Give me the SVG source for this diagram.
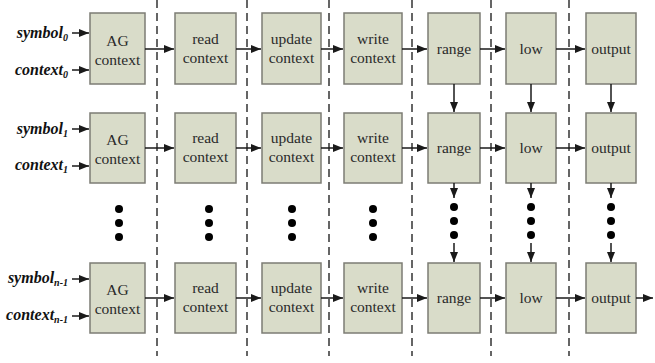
<svg xmlns="http://www.w3.org/2000/svg" width="655" height="363" viewBox="0 0 655 363">
<style>
.box{fill:#d9dcc9;stroke:#7c7c74;stroke-width:1.5}
.bt{font-size:15.5px;fill:#2a2a2a;text-anchor:middle}
.lb{font-size:16px;font-weight:bold;font-style:italic;fill:#111;text-anchor:end}
.sub{font-size:10px}
.dash{stroke:#333;stroke-width:1.5;stroke-dasharray:8 5;fill:none}
.ar{stroke:#1a1a1a;stroke-width:1.5;fill:none;marker-end:url(#ah)}
.dot{fill:#000}
</style>
<defs>
<marker id="ah" viewBox="0 0 10 8" refX="10" refY="4" markerWidth="10" markerHeight="8" markerUnits="userSpaceOnUse" orient="auto">
<path d="M0,0 L10,4 L0,8 Z" fill="#1a1a1a"/>
</marker>
</defs>
<g id="dividers">
<line class="dash" x1="157" y1="0" x2="157" y2="356"/>
<line class="dash" x1="247" y1="0" x2="247" y2="356"/>
<line class="dash" x1="329" y1="0" x2="329" y2="356"/>
<line class="dash" x1="412" y1="0" x2="412" y2="356"/>
<line class="dash" x1="491" y1="0" x2="491" y2="356"/>
<line class="dash" x1="569" y1="0" x2="569" y2="356"/>
</g>
<g id="labels" font-family="'Liberation Serif', 'Times New Roman', serif">
<text class="lb" x="68" y="38">symbol<tspan class="sub" dy="3">0</tspan></text>
<text class="lb" x="68" y="75">context<tspan class="sub" dy="3">0</tspan></text>
<text class="lb" x="68" y="134">symbol<tspan class="sub" dy="3">1</tspan></text>
<text class="lb" x="68" y="170">context<tspan class="sub" dy="3">1</tspan></text>
<text class="lb" x="68" y="283">symbol<tspan class="sub" dy="3">n-1</tspan></text>
<text class="lb" x="68" y="320">context<tspan class="sub" dy="3">n-1</tspan></text>
</g>
<g id="nodes" font-family="'Liberation Serif', 'Times New Roman', serif">
<g id="ag0"><rect class="box" x="90" y="13" width="55" height="71"/><text class="bt" x="117.5" y="46">AG</text><text class="bt" x="117.5" y="65">context</text></g>
<g id="read0"><rect class="box" x="175" y="13" width="61" height="71"/><text class="bt" x="205.5" y="44">read</text><text class="bt" x="205.5" y="63">context</text></g>
<g id="update0"><rect class="box" x="262" y="13" width="59" height="71"/><text class="bt" x="291.5" y="44">update</text><text class="bt" x="291.5" y="63">context</text></g>
<g id="write0"><rect class="box" x="344" y="13" width="58" height="71"/><text class="bt" x="373" y="44">write</text><text class="bt" x="373" y="63">context</text></g>
<g id="range0"><rect class="box" x="428" y="13" width="52" height="71"/><text class="bt" x="454" y="54">range</text></g>
<g id="low0"><rect class="box" x="506" y="13" width="50" height="71"/><text class="bt" x="531" y="54">low</text></g>
<g id="output0"><rect class="box" x="586" y="13" width="50" height="71"/><text class="bt" x="611" y="54">output</text></g>

<g id="ag1"><rect class="box" x="90" y="113" width="55" height="70"/><text class="bt" x="117.5" y="145">AG</text><text class="bt" x="117.5" y="164">context</text></g>
<g id="read1"><rect class="box" x="175" y="113" width="61" height="70"/><text class="bt" x="205.5" y="143">read</text><text class="bt" x="205.5" y="162">context</text></g>
<g id="update1"><rect class="box" x="262" y="113" width="59" height="70"/><text class="bt" x="291.5" y="143">update</text><text class="bt" x="291.5" y="162">context</text></g>
<g id="write1"><rect class="box" x="344" y="113" width="58" height="70"/><text class="bt" x="373" y="143">write</text><text class="bt" x="373" y="162">context</text></g>
<g id="range1"><rect class="box" x="428" y="113" width="52" height="70"/><text class="bt" x="454" y="153">range</text></g>
<g id="low1"><rect class="box" x="506" y="113" width="50" height="70"/><text class="bt" x="531" y="153">low</text></g>
<g id="output1"><rect class="box" x="586" y="113" width="50" height="70"/><text class="bt" x="611" y="153">output</text></g>

<g id="ag2"><rect class="box" x="90" y="263" width="55" height="70"/><text class="bt" x="117.5" y="295">AG</text><text class="bt" x="117.5" y="314">context</text></g>
<g id="read2"><rect class="box" x="175" y="263" width="61" height="70"/><text class="bt" x="205.5" y="293">read</text><text class="bt" x="205.5" y="312">context</text></g>
<g id="update2"><rect class="box" x="262" y="263" width="59" height="70"/><text class="bt" x="291.5" y="293">update</text><text class="bt" x="291.5" y="312">context</text></g>
<g id="write2"><rect class="box" x="344" y="263" width="58" height="70"/><text class="bt" x="373" y="293">write</text><text class="bt" x="373" y="312">context</text></g>
<g id="range2"><rect class="box" x="428" y="263" width="52" height="70"/><text class="bt" x="454" y="303">range</text></g>
<g id="low2"><rect class="box" x="506" y="263" width="50" height="70"/><text class="bt" x="531" y="303">low</text></g>
<g id="output2"><rect class="box" x="586" y="263" width="50" height="70"/><text class="bt" x="611" y="303">output</text></g>
</g>
<g id="connectors">
<line class="ar" x1="72" y1="33" x2="89" y2="33"/>
<line class="ar" x1="72" y1="70" x2="89" y2="70"/>
<line class="ar" x1="72" y1="129" x2="89" y2="129"/>
<line class="ar" x1="72" y1="166" x2="89" y2="166"/>
<line class="ar" x1="72" y1="279" x2="89" y2="279"/>
<line class="ar" x1="72" y1="316" x2="89" y2="316"/>

<line class="ar" x1="145" y1="49" x2="174" y2="49"/>
<line class="ar" x1="236" y1="49" x2="261" y2="49"/>
<line class="ar" x1="321" y1="49" x2="343" y2="49"/>
<line class="ar" x1="402" y1="49" x2="427" y2="49"/>
<line class="ar" x1="480" y1="49" x2="505" y2="49"/>
<line class="ar" x1="556" y1="49" x2="585" y2="49"/>

<line class="ar" x1="145" y1="148" x2="174" y2="148"/>
<line class="ar" x1="236" y1="148" x2="261" y2="148"/>
<line class="ar" x1="321" y1="148" x2="343" y2="148"/>
<line class="ar" x1="402" y1="148" x2="427" y2="148"/>
<line class="ar" x1="480" y1="148" x2="505" y2="148"/>
<line class="ar" x1="556" y1="148" x2="585" y2="148"/>

<line class="ar" x1="145" y1="298" x2="174" y2="298"/>
<line class="ar" x1="236" y1="298" x2="261" y2="298"/>
<line class="ar" x1="321" y1="298" x2="343" y2="298"/>
<line class="ar" x1="402" y1="298" x2="427" y2="298"/>
<line class="ar" x1="480" y1="298" x2="505" y2="298"/>
<line class="ar" x1="556" y1="298" x2="585" y2="298"/>
<line class="ar" x1="636" y1="298" x2="653" y2="298"/>

<line class="ar" x1="454" y1="84" x2="454" y2="112"/>
<line class="ar" x1="531" y1="84" x2="531" y2="112"/>
<line class="ar" x1="611" y1="84" x2="611" y2="112"/>

<line class="ar" x1="454" y1="183" x2="454" y2="198"/>
<line class="ar" x1="531" y1="183" x2="531" y2="198"/>
<line class="ar" x1="611" y1="183" x2="611" y2="198"/>
<line class="ar" x1="454" y1="243" x2="454" y2="262"/>
<line class="ar" x1="531" y1="243" x2="531" y2="262"/>
<line class="ar" x1="611" y1="243" x2="611" y2="262"/>
</g>
<g id="ellipses">
<circle class="dot" cx="119" cy="209" r="4"/><circle class="dot" cx="119" cy="223" r="4"/><circle class="dot" cx="119" cy="237" r="4"/>
<circle class="dot" cx="209" cy="209" r="4"/><circle class="dot" cx="209" cy="223" r="4"/><circle class="dot" cx="209" cy="237" r="4"/>
<circle class="dot" cx="292" cy="209" r="4"/><circle class="dot" cx="292" cy="223" r="4"/><circle class="dot" cx="292" cy="237" r="4"/>
<circle class="dot" cx="373" cy="209" r="4"/><circle class="dot" cx="373" cy="223" r="4"/><circle class="dot" cx="373" cy="237" r="4"/>
<circle class="dot" cx="454" cy="207" r="4"/><circle class="dot" cx="454" cy="221" r="4"/><circle class="dot" cx="454" cy="235" r="4"/>
<circle class="dot" cx="531" cy="207" r="4"/><circle class="dot" cx="531" cy="221" r="4"/><circle class="dot" cx="531" cy="235" r="4"/>
<circle class="dot" cx="611" cy="207" r="4"/><circle class="dot" cx="611" cy="221" r="4"/><circle class="dot" cx="611" cy="235" r="4"/>
</g>
</svg>
